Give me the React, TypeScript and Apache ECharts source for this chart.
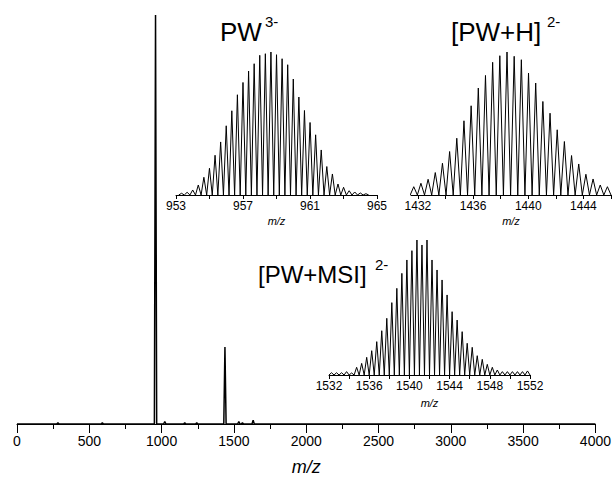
import React, { useEffect, useRef } from "react";
import * as echarts from "echarts";

// ---- Main spectrum (stick peaks) ----
const mainPeakMz = [283, 590, 958, 1022, 1160, 1243, 1438, 1534, 1559, 1633];
const mainPeakInt = [0.3, 0.3, 100, 0.6, 0.3, 0.3, 18.8, 0.6, 0.3, 0.9];
const mainTickLabels = [0, 500, 1000, 1500, 2000, 2500, 3000, 3500, 4000];

// ---- Inset 1: PW3- isotope pattern ----
const pw3FirstMz = 953.33;
const pw3Spacing = 0.3336;
const pw3Int = [1.2, 1.9, 3.5, 7, 12.4, 18.7, 27.8, 37.1, 48.4, 58.9, 70.1, 78.7, 86.7, 91.8, 97.7, 98.8, 100, 98.1, 95.3, 91.1, 81.1, 68.5, 59.1, 50.7, 42.1, 31.5, 19.9, 14.7, 7.7, 5.4, 3, 2.1, 1.4, 0.9];
const pw3Ticks = [953, 955, 957, 959, 961, 963, 965];
const pw3Labels = [953, 957, 961, 965];

// ---- Inset 2: [PW+H]2- isotope pattern ----
const pwhFirstMz = 1431.7;
const pwhSpacing = 0.52;
const pwhInt = [5.8, 8.2, 11, 15.7, 22.2, 30.4, 39.7, 51.9, 62.4, 74.8, 83.6, 92.8, 97.4, 100, 97, 94.6, 85.3, 78.3, 65.4, 57.2, 45.6, 37.4, 27.6, 21.7, 14.5, 11.2, 7, 5.8];
const pwhTicks = [1432, 1434, 1436, 1438, 1440, 1442, 1444, 1446];
const pwhLabels = [1432, 1436, 1440, 1444];

// ---- Inset 3: [PW+MSI]2- isotope pattern ----
const msiFirstMz = 1532.25;
const msiSpacing = 0.5;
const msiInt = [1.7, 1.7, 1.7, 2.5, 1.5, 5.7, 8.6, 13.1, 18, 24.7, 32.8, 42, 53.6, 64.2, 75.3, 85.2, 92.1, 100, 96.3, 100, 85.2, 77.8, 70.4, 59.3, 46.9, 40.7, 32.1, 23.5, 20.5, 14.3, 11.6, 7.9, 5.7, 3.7, 2.5, 2.5, 2.5, 2.5, 2.5, 3];
const msiTicks = [1532, 1534, 1536, 1538, 1540, 1542, 1544, 1546, 1548, 1550, 1552];
const msiLabels = [1532, 1536, 1540, 1544, 1548, 1552];

const FONT = "Arial, 'Liberation Sans', sans-serif";

function stickData(mz: number[], ints: number[], halfWidth: number) {
  const out: number[][] = [[0, 0]];
  mz.forEach((m, i) => {
    out.push([m - halfWidth, 0], [m, ints[i]], [m + halfWidth, 0]);
  });
  out.push([4000, 0]);
  return out;
}

function isotopeData(first: number, spacing: number, ints: number[]) {
  const out: number[][] = [];
  ints.forEach((v, i) => {
    const m = first + i * spacing;
    out.push([m - spacing / 2, 0], [m, v]);
  });
  out.push([first + (ints.length - 1) * spacing + spacing / 2, 0]);
  return out;
}

function insetXAxis(gridIndex: number, min: number, max: number, ticks: number[], labels: number[], labelMargin: number, nameGap: number) {
  return {
    type: "value",
    gridIndex,
    min,
    max,
    splitLine: { show: false },
    axisLine: { show: true, onZero: false, lineStyle: { color: "#000", width: 1 } },
    axisTick: { show: true, inside: false, length: 4, customValues: ticks, lineStyle: { color: "#000" } },
    axisLabel: {
      show: true,
      customValues: labels,
      margin: labelMargin,
      fontSize: 12,
      color: "#000",
      fontFamily: FONT,
      formatter: (v: number) => String(v),
    },
    name: "m/z",
    nameLocation: "middle",
    nameGap,
    nameTextStyle: { fontSize: 11, fontStyle: "italic", color: "#000", fontFamily: FONT },
  };
}

export default function App() {
  const ref = useRef<HTMLDivElement>(null);
  useEffect(() => {
    if (!ref.current) return;
    const chart = echarts.init(ref.current, null, { renderer: "svg" });
    const option: any = {
      animation: false,
      backgroundColor: "#fff",
      grid: [
        { left: 17, right: 18, top: 15, bottom: 62 },
        { left: 176, width: 201, top: 52, height: 143 },
        { left: 411, width: 200, top: 52, height: 143 },
        { left: 329, width: 201, top: 240, height: 135 },
      ],
      xAxis: [
        {
          type: "value",
          gridIndex: 0,
          min: 0,
          max: 4000,
          interval: 500,
          splitLine: { show: false },
          axisLine: { show: true, onZero: false, lineStyle: { color: "#000", width: 1 } },
          axisTick: { show: true, inside: false, length: 9, lineStyle: { color: "#000" } },
          minorTick: { show: true, splitNumber: 2, length: 5, lineStyle: { color: "#000" } },
          axisLabel: {
            margin: 10,
            fontSize: 14,
            color: "#000",
            fontFamily: FONT,
            formatter: (v: number) => (mainTickLabels.includes(v) ? String(v) : ""),
          },
          name: "m/z",
          nameLocation: "middle",
          nameGap: 34,
          nameTextStyle: { fontSize: 18, fontStyle: "italic", color: "#000", fontFamily: FONT },
        },
        insetXAxis(1, 953, 965, pw3Ticks, pw3Labels, 5, 20),
        insetXAxis(2, 1431.5, 1446, pwhTicks, pwhLabels, 5, 20),
        insetXAxis(3, 1532, 1552, msiTicks, msiLabels, 5, 22),
      ],
      yAxis: [0, 1, 2, 3].map((g) => ({
        type: "value",
        gridIndex: g,
        min: 0,
        max: 100,
        show: false,
      })),
      series: [
        {
          type: "line",
          xAxisIndex: 0,
          yAxisIndex: 0,
          data: stickData(mainPeakMz, mainPeakInt, 8),
          symbol: "none",
          lineStyle: { color: "#000", width: 1.5 },
          clip: true,
        },
        {
          type: "line",
          xAxisIndex: 1,
          yAxisIndex: 1,
          data: isotopeData(pw3FirstMz, pw3Spacing, pw3Int),
          symbol: "none",
          lineStyle: { color: "#000", width: 1 },
        },
        {
          type: "line",
          xAxisIndex: 2,
          yAxisIndex: 2,
          data: isotopeData(pwhFirstMz, pwhSpacing, pwhInt),
          symbol: "none",
          lineStyle: { color: "#000", width: 1 },
          clip: true,
        },
        {
          type: "line",
          xAxisIndex: 3,
          yAxisIndex: 3,
          data: isotopeData(msiFirstMz, msiSpacing, msiInt),
          symbol: "none",
          lineStyle: { color: "#000", width: 1 },
        },
      ],
      graphic: [
        { type: "text", x: 220, y: 32, style: { text: "PW", font: `26px ${FONT}`, fill: "#000", textVerticalAlign: "middle" } },
        { type: "text", x: 265, y: 21, style: { text: "3-", font: `15px ${FONT}`, fill: "#000", textVerticalAlign: "middle" } },
        { type: "text", x: 451, y: 32, style: { text: "[PW+H]", font: `26px ${FONT}`, fill: "#000", textVerticalAlign: "middle" } },
        { type: "text", x: 547, y: 21, style: { text: "2-", font: `15px ${FONT}`, fill: "#000", textVerticalAlign: "middle" } },
        { type: "text", x: 258, y: 274, style: { text: "[PW+MSI]", font: `24px ${FONT}`, fill: "#000", textVerticalAlign: "middle" } },
        { type: "text", x: 375, y: 264, style: { text: "2-", font: `15px ${FONT}`, fill: "#000", textVerticalAlign: "middle" } },
      ],
    };
    chart.setOption(option);
    return () => chart.dispose();
  }, []);
  return <div ref={ref} style={{ width: 614, height: 486, position: "absolute", left: 0, top: 0 }} />;
}
